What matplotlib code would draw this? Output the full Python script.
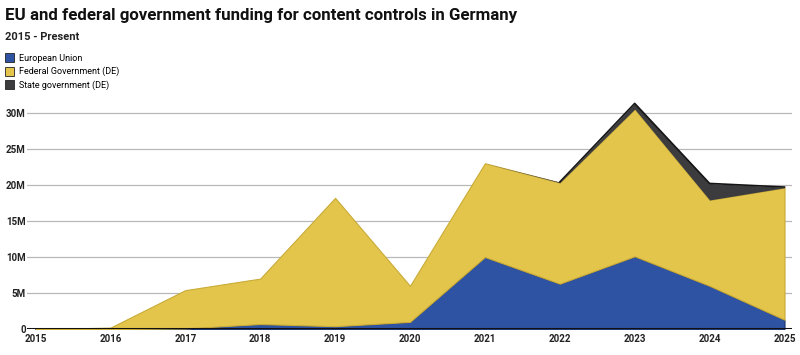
import matplotlib.pyplot as plt
from matplotlib.patches import Patch

plt.rcParams['font.family'] = ['Roboto', 'DejaVu Sans']

years = [2015, 2016, 2017, 2018, 2019, 2020, 2021, 2022, 2023, 2024, 2025]
eu = [0, 0, 0.1, 0.7, 0.4, 1.0, 10.0, 6.3, 10.1, 6.0, 1.3]
federal = [0, 0.2, 5.3, 6.3, 17.8, 5.0, 13.0, 14.0, 20.4, 11.9, 18.3]
state = [0, 0, 0, 0, 0, 0, 0, 0.1, 0.8, 2.3, 0.1]
series_names = ['European Union', 'Federal Government (DE)', 'State government (DE)']
colors = ['#2f53a3', '#e3c54c', '#3c3c3e']
edges = ['#1d3570', '#c9ab36', '#151515']
yticks = [0, 5, 10, 15, 20, 25, 30]
ytick_labels = ['0', '5M', '10M', '15M', '20M', '25M', '30M']

fig = plt.figure(figsize=(8, 3.55), dpi=100)
ax = fig.add_axes([0.034, 0.073, 0.956, 0.65])

polys = ax.stackplot(years, eu, federal, state, colors=colors, zorder=3)
for p, ec in zip(polys, edges):
    p.set_edgecolor(ec)
    p.set_linewidth(0.8)
# draw the thin state layer outline only along its top
top = [a + b + c for a, b, c in zip(eu, federal, state)]
polys[2].set_linewidth(0)
ax.plot(years[7:], top[7:], color=edges[2], linewidth=1.2, zorder=4)

ax.set_xlim(2014.89, 2025.1)
ax.set_ylim(0, 32)
ax.set_yticks(yticks)
ax.set_yticklabels(ytick_labels)
ax.set_xticks(years)
ax.grid(True, axis='y', color='#b8b8b8', linewidth=0.9, zorder=1)
ax.axhline(0, color='#111111', linewidth=2.2, zorder=5)
for s in ax.spines.values():
    s.set_visible(False)
ax.tick_params(axis='both', length=0, labelsize=7)
ax.tick_params(axis='y', pad=1)
for lbl in ax.get_xticklabels() + ax.get_yticklabels():
    lbl.set_fontweight('bold')
    lbl.set_color('#222222')

fig.text(0.006, 0.955, 'EU and federal government funding for content controls in Germany',
         fontsize=12.2, fontweight='bold', color='#111111', va='center')
fig.text(0.006, 0.895, '2015 - Present', fontsize=8, fontweight='bold', color='#222222', va='center')

handles = [Patch(facecolor=c, edgecolor='#222222', linewidth=0.6) for c in colors]
fig.legend(handles, series_names, loc='upper left', bbox_to_anchor=(0.0, 0.865),
           frameon=False, fontsize=6.5, handlelength=1.0, handleheight=1.1,
           handletextpad=0.5, labelspacing=0.45, borderaxespad=0.2)

fig.savefig('out.png', dpi=100, facecolor='white')
